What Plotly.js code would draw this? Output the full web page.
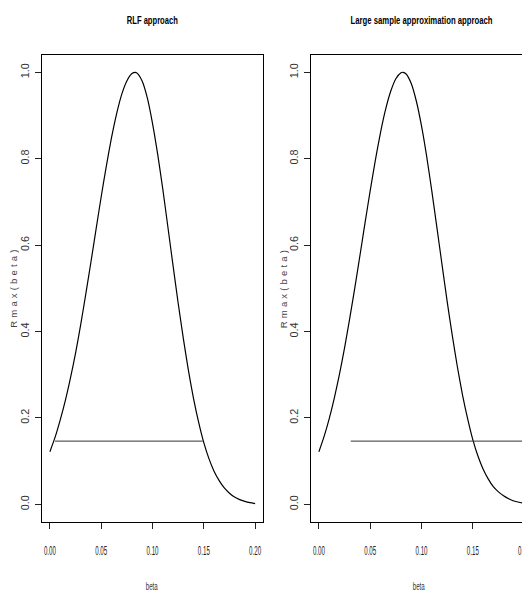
<!DOCTYPE html>
<html>
<head>
<meta charset="utf-8">
<script src="https://cdn.plot.ly/plotly-3.0.1.min.js"></script>
<style>
html,body{margin:0;padding:0;background:#fff;overflow:hidden;width:522px;height:591px;}
#chart{width:540px;height:591px;}
</style>
</head>
<body>
<div id="chart"></div>
<script>
// ---- data ----
var betaLeft  = [0, 0.005, 0.01, 0.015, 0.02, 0.025, 0.03, 0.035, 0.04, 0.045, 0.05, 0.055, 0.06, 0.065, 0.07, 0.075, 0.08, 0.083, 0.085, 0.09, 0.095, 0.10, 0.105, 0.11, 0.115, 0.12, 0.125, 0.13, 0.135, 0.14, 0.145, 0.15, 0.155, 0.16, 0.165, 0.17, 0.175, 0.18, 0.185, 0.19, 0.195, 0.20];
var rmaxLeft  = [0.122, 0.155, 0.195, 0.24, 0.292, 0.350, 0.416, 0.487, 0.561, 0.637, 0.712, 0.783, 0.848, 0.904, 0.949, 0.980, 0.997, 1.0, 0.998, 0.979, 0.940, 0.882, 0.811, 0.730, 0.642, 0.553, 0.466, 0.385, 0.310, 0.245, 0.190, 0.143, 0.106, 0.077, 0.055, 0.038, 0.026, 0.017, 0.011, 0.007, 0.004, 0.002];
var betaRight = [0, 0.005, 0.01, 0.015, 0.02, 0.025, 0.03, 0.035, 0.04, 0.045, 0.05, 0.055, 0.06, 0.065, 0.07, 0.075, 0.08, 0.082, 0.085, 0.09, 0.095, 0.10, 0.105, 0.11, 0.115, 0.12, 0.125, 0.13, 0.135, 0.14, 0.145, 0.15, 0.155, 0.16, 0.165, 0.17, 0.175, 0.18, 0.185, 0.19, 0.195, 0.20];
var rmaxRight = [0.122, 0.157, 0.198, 0.246, 0.301, 0.362, 0.430, 0.501, 0.576, 0.652, 0.726, 0.796, 0.860, 0.914, 0.956, 0.985, 0.999, 1.0, 0.996, 0.974, 0.933, 0.876, 0.806, 0.726, 0.641, 0.555, 0.470, 0.391, 0.318, 0.253, 0.198, 0.150, 0.112, 0.082, 0.059, 0.041, 0.029, 0.020, 0.013, 0.008, 0.005, 0.003];
var cutLeftX  = [0.005, 0.149];
var cutLeftY  = [0.1465, 0.1465];
var cutRightX = [0.031, 0.2];
var cutRightY = [0.1465, 0.1465];
var xTicks = [0, 0.05, 0.10, 0.15, 0.20];
var yTicks = [0, 0.2, 0.4, 0.6, 0.8, 1.0];
var titles = ["RLF approach", "Large sample approximation approach"];
var xTitle = "beta";
var yTitle = "Rmax(beta)";

var W = 540, H = 591;
function px(v){ return v / W; }
function py(v){ return 1 - v / H; }

var fam = '"Liberation Sans", Arial, sans-serif';

var curveLine = {color: '#000', width: 1.2, shape: 'spline', smoothing: 0.6};
var cutLine = {color: '#333', width: 1};

var traces = [
  {x: betaLeft, y: rmaxLeft, xaxis: 'x', yaxis: 'y', mode: 'lines', line: curveLine, hoverinfo: 'skip'},
  {x: cutLeftX, y: cutLeftY, xaxis: 'x', yaxis: 'y', mode: 'lines', line: cutLine, hoverinfo: 'skip'},
  {x: betaRight, y: rmaxRight, xaxis: 'x2', yaxis: 'y2', mode: 'lines', line: curveLine, hoverinfo: 'skip'},
  {x: cutRightX, y: cutRightY, xaxis: 'x2', yaxis: 'y2', mode: 'lines', line: cutLine, hoverinfo: 'skip'}
];

function xax(dom, anchor){
  return {domain: dom, anchor: anchor, range: [-0.008, 0.208], tickvals: xTicks, tickformat: '.2f',
    showgrid: false, zeroline: false, showline: true, mirror: true, linecolor: '#000', linewidth: 1,
    ticks: 'outside', ticklen: 6, tickcolor: '#222', tickwidth: 1, ticklabelstandoff: 12,
    tickfont: {family: fam, size: 12, color: '#222'}, fixedrange: true};
}
function yax(anchor){
  return {domain: [py(521.7), py(55)], anchor: anchor, range: [-0.04, 1.04], tickvals: yTicks, tickformat: '.1f',
    showgrid: false, zeroline: false, showline: true, mirror: true, linecolor: '#000', linewidth: 1,
    ticks: 'outside', ticklen: 6, tickcolor: '#222', tickwidth: 1, tickangle: -90, ticklabelstandoff: 1,
    tickfont: {family: fam, size: 11, color: '#333'}, fixedrange: true};
}

var ann = [];
ann.push({text: '<b>' + titles[0] + '</b>', x: px(152.5), y: py(20), xref: 'paper', yref: 'paper', xanchor: 'center', yanchor: 'middle', showarrow: false, font: {family: fam, size: 10.5, color: '#000'}});
ann.push({text: '<b>' + titles[1] + '</b>', x: px(421.5), y: py(20), xref: 'paper', yref: 'paper', xanchor: 'center', yanchor: 'middle', showarrow: false, font: {family: fam, size: 10.5, color: '#000'}});
ann.push({text: xTitle, x: px(152), y: py(586), xref: 'paper', yref: 'paper', xanchor: 'center', yanchor: 'middle', showarrow: false, font: {family: fam, size: 10, color: '#333'}});
ann.push({text: xTitle, x: px(419), y: py(586), xref: 'paper', yref: 'paper', xanchor: 'center', yanchor: 'middle', showarrow: false, font: {family: fam, size: 10, color: '#333'}});
ann.push({text: yTitle, x: px(12.5), y: py(289), xref: 'paper', yref: 'paper', xanchor: 'center', yanchor: 'middle', textangle: -90, showarrow: false, font: {family: fam, size: 9.5, color: '#444'}});
ann.push({text: yTitle, x: px(283), y: py(289), xref: 'paper', yref: 'paper', xanchor: 'center', yanchor: 'middle', textangle: -90, showarrow: false, font: {family: fam, size: 9.5, color: '#444'}});

var layout = {
  width: W, height: H,
  margin: {l: 0, r: 0, t: 0, b: 0},
  paper_bgcolor: '#fff', plot_bgcolor: '#fff',
  showlegend: false,
  xaxis: xax([px(41.7), px(263.3)], 'y'),
  yaxis: yax('x'),
  xaxis2: xax([px(310.7), px(532.3)], 'y2'),
  yaxis2: yax('x2'),
  annotations: ann
};

function squeeze(el, len, mode){
  el.setAttribute('textLength', len);
  el.setAttribute('lengthAdjust', mode || 'spacingAndGlyphs');
}

Plotly.newPlot('chart', traces, layout, {staticPlot: true}).then(function(){
  document.querySelectorAll('.annotation-text').forEach(function(t){
    var s = t.textContent;
    if (s === titles[0]) squeeze(t, 51);
    else if (s === titles[1]) squeeze(t, 142);
    else if (s === xTitle) squeeze(t, 12);
    else if (s === yTitle) squeeze(t, 78, 'spacing');
  });
  document.querySelectorAll('.xtick text, .x2tick text').forEach(function(t){ squeeze(t, 12); });
  document.querySelectorAll('.ytick text, .y2tick text').forEach(function(t){ squeeze(t, 15); });
});
</script>
</body>
</html>
